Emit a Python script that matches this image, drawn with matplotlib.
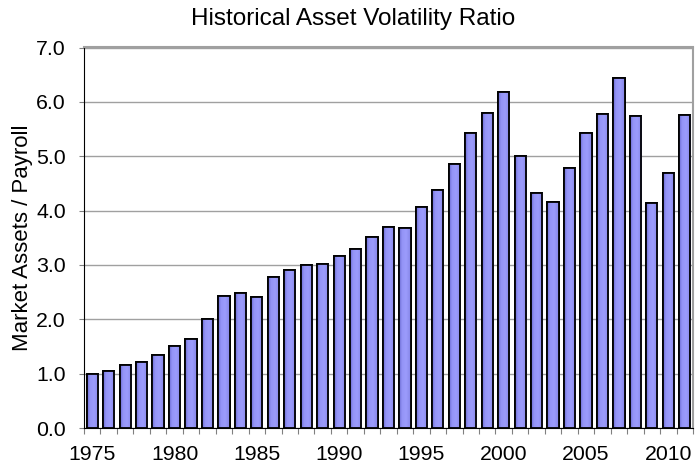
import matplotlib
matplotlib.use("Agg")
import matplotlib.pyplot as plt
import numpy as np
from matplotlib.colors import LinearSegmentedColormap

plt.rcParams['font.family'] = ['Liberation Sans', 'DejaVu Sans']

years = list(range(1975, 2012))
values = [1.00, 1.05, 1.15, 1.22, 1.34, 1.51, 1.64, 2.01, 2.42, 2.48,
          2.41, 2.77, 2.90, 2.99, 3.01, 3.16, 3.29, 3.51, 3.69, 3.68,
          4.07, 4.37, 4.86, 5.42, 5.79, 6.18, 5.00, 4.32, 4.15, 4.79,
          5.43, 5.78, 6.43, 5.74, 4.14, 4.69, 5.76]
label_years = [1975, 1980, 1985, 1990, 1995, 2000, 2005, 2010]
yticks = [0, 1, 2, 3, 4, 5, 6, 7]

W, H = 696, 465
fig = plt.figure(figsize=(W / 100, H / 100), dpi=100)
L, R, T, B = 84, 693, 47.5, 428
ax = fig.add_axes([L / W, 1 - B / H, (R - L) / W, (B - T) / H])

x = np.arange(len(years))
bars = ax.bar(x, values, width=0.68, color='#9090f2', edgecolor='black',
              linewidth=1.3, zorder=3)

# subtle horizontal shading inside each bar
cmap = LinearSegmentedColormap.from_list(
    'shade', [(0.0, '#6a6ad0'), (0.25, '#9494f6'), (0.6, '#9c9cfc'), (1.0, '#8484e6')])
grad = np.linspace(0, 1, 64).reshape(1, -1)
for b in bars:
    bx, by = b.get_x(), b.get_y()
    bw, bh = b.get_width(), b.get_height()
    im = ax.imshow(grad, cmap=cmap, aspect='auto', extent=(bx, bx + bw, by, by + bh),
                   zorder=3.5, interpolation='bilinear')
    im.set_clip_path(b)
    ov = plt.Rectangle((bx, by), bw, bh, fill=False, edgecolor='black',
                       linewidth=1.3, zorder=4)
    ax.add_patch(ov)

ax.set_xlim(-0.5, len(years) - 0.5)
ax.set_ylim(0, 7)
ax.set_yticks(yticks)
ax.set_yticklabels([f"{v:.1f}" for v in yticks], fontsize=15.3)
ax.yaxis.grid(True, color='#a0a0a0', linewidth=1, zorder=0)

ax.set_xticks([years.index(y) for y in label_years])
ax.set_xticklabels([str(y) for y in label_years], fontsize=15.3)
ax.tick_params(axis='x', which='major', length=0, pad=12.5)
ax.set_xticks(np.arange(len(years) + 1) - 0.5, minor=True)
ax.tick_params(axis='x', which='minor', length=4.5, width=0.8, color='#808080')
ax.tick_params(axis='y', length=3.6, width=0.8, color='#808080', pad=9.5)

ax.spines['left'].set_color('black')
ax.spines['bottom'].set_color('black')
ax.spines['top'].set_color('#a0a0a0')
ax.spines['right'].set_color('#a0a0a0')
ax.spines['top'].set_linewidth(1.5)
ax.spines['right'].set_linewidth(1.5)

ax.set_ylabel('Market Assets / Payroll', fontsize=16, labelpad=2)
fig.text(353 / W, 1 - 25 / H, 'Historical Asset Volatility Ratio', fontsize=17.5,
         ha='center', va='baseline')

fig.savefig('out.png', dpi=100)
